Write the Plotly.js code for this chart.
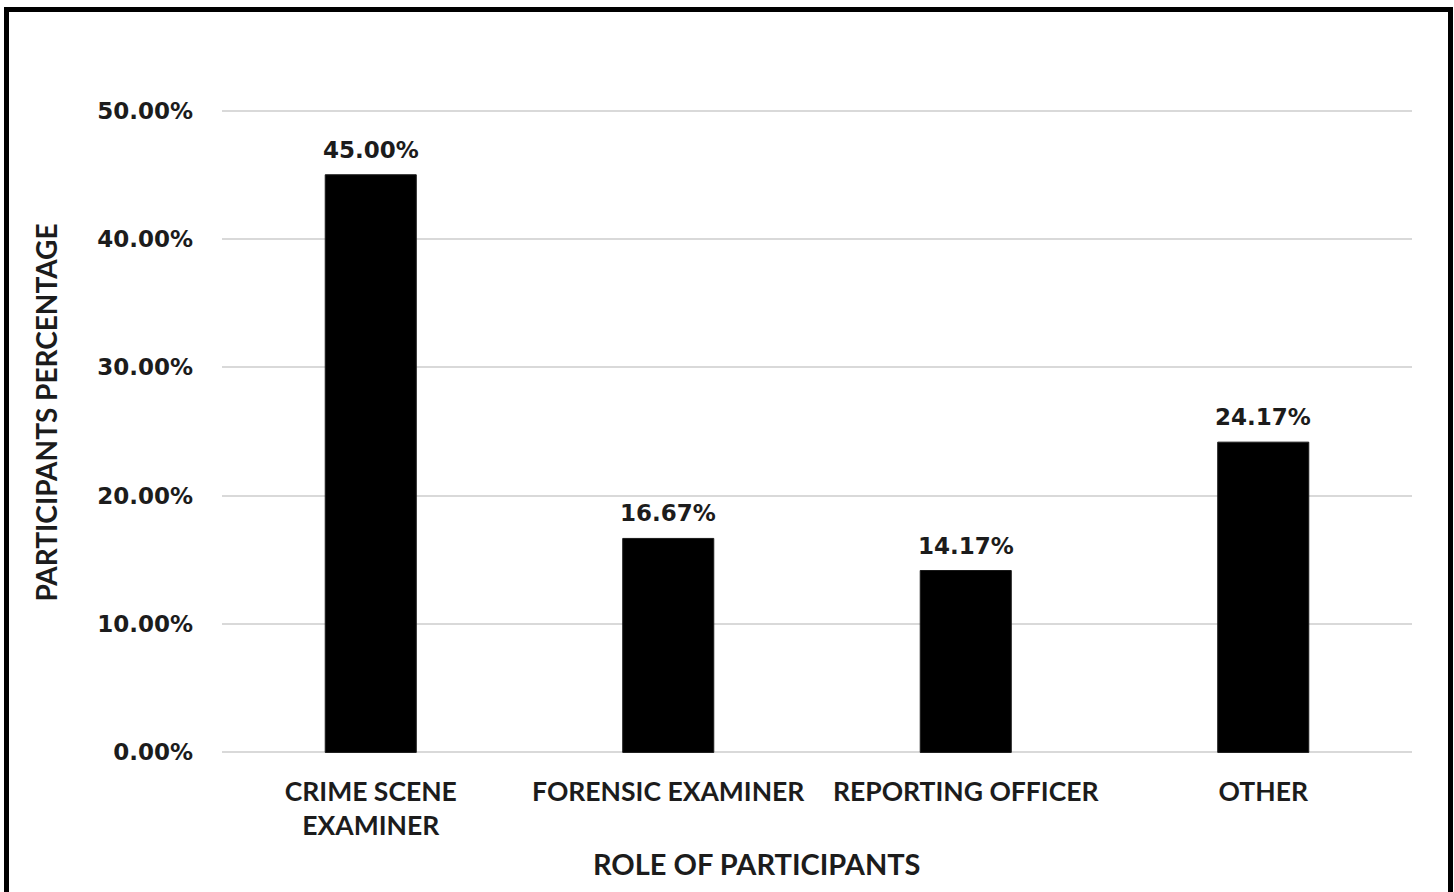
<!DOCTYPE html>
<html>
<head>
<meta charset="utf-8">
<script src="https://cdn.plot.ly/plotly-3.0.1.min.js"></script>
<style>
  html, body { margin: 0; padding: 0; background: #ffffff; overflow: hidden; }
  #chart { position: absolute; left: 0; top: 0; width: 1454px; height: 892px; }
  #frame {
    position: absolute; left: 4px; top: 7px; width: 1439px; height: 900px;
    border-left: 5px solid #000; border-top: 5px solid #000; border-right: 5px solid #000;
    pointer-events: none;
  }
</style>
</head>
<body>
<div id="chart"></div>
<div id="frame"></div>
<script>
// Share of survey participants by role
const roles = ['CRIME SCENE<br>EXAMINER', 'FORENSIC EXAMINER', 'REPORTING OFFICER', 'OTHER'];
const shares = [0.45, 0.1667, 0.1417, 0.2417];
const yTicks = [0, 0.1, 0.2, 0.3, 0.4, 0.5];

const textColor = '#1c1c1c';
const labelFont = 'Lato, "Open Sans", sans-serif';
const numberFont = '"DejaVu Sans", Verdana, sans-serif';

const bars = {
  type: 'bar',
  x: roles,
  y: shares,
  marker: { color: '#000000', line: { color: '#1a1a1a', width: 1 } },
  hoverinfo: 'x+y'
};

// value labels above each bar
const valueLabels = roles.map((r, i) => ({
  x: r, y: shares[i], xref: 'x', yref: 'y',
  text: (shares[i] * 100).toFixed(2) + '%',
  showarrow: false, yanchor: 'bottom', yshift: 10,
  font: { family: numberFont, size: 23, color: textColor, weight: 'bold' }
}));

const axisTitles = [
  {
    text: 'ROLE OF PARTICIPANTS', xref: 'paper', yref: 'paper',
    x: 0.4496, y: -0.168, xanchor: 'center', yanchor: 'middle', showarrow: false,
    font: { family: labelFont, size: 29, color: textColor, weight: 'bold' }
  },
  {
    text: 'PARTICIPANTS PERCENTAGE', xref: 'paper', yref: 'paper',
    x: -0.1475, y: 0.53, xanchor: 'center', yanchor: 'middle', showarrow: false,
    textangle: -90,
    font: { family: labelFont, size: 28, color: textColor, weight: 'bold' }
  }
];

const layout = {
  width: 1454, height: 892,
  margin: { l: 222, r: 42, t: 108, b: 137, pad: 0 },
  paper_bgcolor: '#ffffff', plot_bgcolor: '#ffffff',
  bargap: 0.694,
  showlegend: false,
  xaxis: {
    type: 'category',
    showgrid: false, showline: false, zeroline: false, ticks: '',
    ticklabelstandoff: 18,
    tickfont: { family: labelFont, size: 26.5, color: textColor, weight: 'bold' }
  },
  yaxis: {
    // a little headroom so the 0% and 50% gridlines are drawn
    range: [-0.002, 0.502],
    tickvals: yTicks, tickformat: '.2%',
    showgrid: true, gridcolor: '#d9d9d9', gridwidth: 2,
    zeroline: false, showline: false, ticks: '',
    ticklabelstandoff: 28,
    tickfont: { family: numberFont, size: 23, color: textColor, weight: 'bold' }
  },
  annotations: valueLabels.concat(axisTitles)
};

Plotly.newPlot('chart', [bars], layout, { displayModeBar: false, staticPlot: true });
</script>
</body>
</html>
